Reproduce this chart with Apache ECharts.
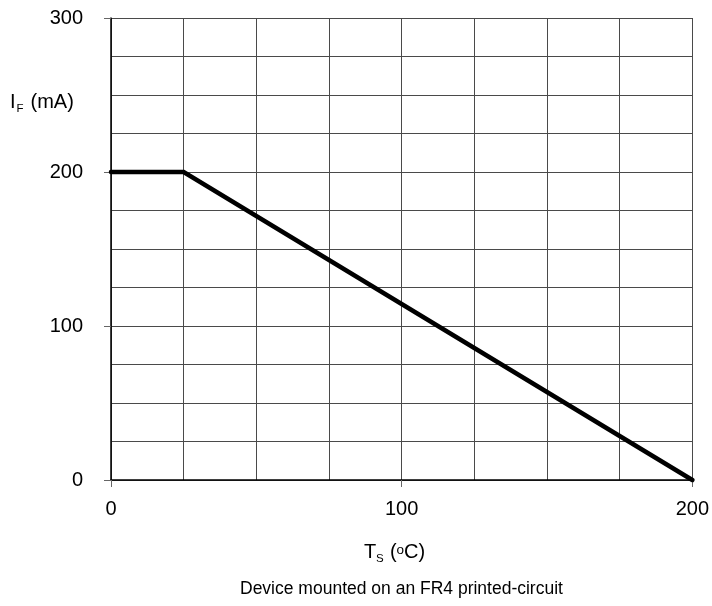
<!DOCTYPE html>
<html>
<head>
<meta charset="utf-8">
<script src="https://cdn.jsdelivr.net/npm/echarts@6/dist/echarts.min.js"></script>
<style>
html,body{margin:0;padding:0;background:#fff;}
#chart{width:712px;height:606px;}
</style>
</head>
<body>
<div id="chart"></div>
<script>
// Data
const tempS = [0, 25, 200];        // T_S (°C)
const currentF = [200, 200, 0];    // I_F (mA)
const xTickLabels = [0, 100, 200];
const yTickLabels = [0, 100, 200, 300];
const yName = ['I', 'F', '(mA)'];
const xName = ['T', 'S', '(', 'o', 'C)'];
const footnote = 'Device mounted on an FR4 printed-circuit';

const FONT = '"Liberation Sans", Arial, sans-serif';
const chart = echarts.init(document.getElementById('chart'), null, {renderer: 'canvas'});

const lineData = tempS.map((x, i) => [x, currentF[i]]);

function txt(text, x, y, size) {
  return {
    type: 'text', z: 10,
    style: {text: text, x: x, y: y, fontSize: size, fontFamily: FONT, fill: '#000',
            align: 'left', verticalAlign: 'middle'}
  };
}

chart.setOption({
  animation: false,
  backgroundColor: '#fff',
  grid: {left: 111, right: 12, top: 18, bottom: 126, containLabel: false},
  xAxis: {
    type: 'value', min: 0, max: 200, interval: 100,
    axisLine: {show: true, onZero: false, lineStyle: {color: '#000', width: 1.5}},
    axisTick: {show: true, length: 7, inside: false, lineStyle: {color: '#666', width: 1}},
    minorTick: {show: false, splitNumber: 4},
    splitLine: {show: true, lineStyle: {color: '#4a4a4a', width: 1}},
    minorSplitLine: {show: true, lineStyle: {color: '#4a4a4a', width: 1}},
    axisLabel: {
      margin: 19, color: '#000', fontSize: 20, fontFamily: FONT,
      formatter: v => xTickLabels.includes(v) ? String(v) : ''
    }
  },
  yAxis: {
    type: 'value', min: 0, max: 300, interval: 100,
    axisLine: {show: true, onZero: false, lineStyle: {color: '#000', width: 1.5}},
    axisTick: {show: true, length: 7, lineStyle: {color: '#666', width: 1}},
    minorTick: {show: false, splitNumber: 4},
    splitLine: {show: true, lineStyle: {color: '#4a4a4a', width: 1}},
    minorSplitLine: {show: true, lineStyle: {color: '#4a4a4a', width: 1}},
    axisLabel: {
      margin: 28, color: '#000', fontSize: 20, fontFamily: FONT,
      formatter: v => yTickLabels.includes(v) ? String(v) : ''
    }
  },
  series: [{
    type: 'line',
    data: lineData,
    showSymbol: false,
    clip: false,
    lineStyle: {color: '#000', width: 4.5, cap: 'round', join: 'miter'},
    z: 5
  }],
  graphic: [
    // y-axis title: I_F (mA)
    txt(yName[0], 10, 102, 20),
    txt(yName[1], 16.5, 108.5, 11.5),
    txt(yName[2], 30.5, 102, 20),
    // x-axis title: T_S (°C)
    txt(xName[0], 364, 552.5, 20),
    txt(xName[1], 376, 559, 11.5),
    txt(xName[2], 390, 552.5, 20),
    txt(xName[3], 396.5, 550, 13.5),
    txt(xName[4], 404, 552.5, 20),
    // footnote
    {
      type: 'text', left: 240, top: 580,
      style: {text: footnote, fontSize: 17.5, fontFamily: FONT, fill: '#000'}
    }
  ]
});
</script>
</body>
</html>
